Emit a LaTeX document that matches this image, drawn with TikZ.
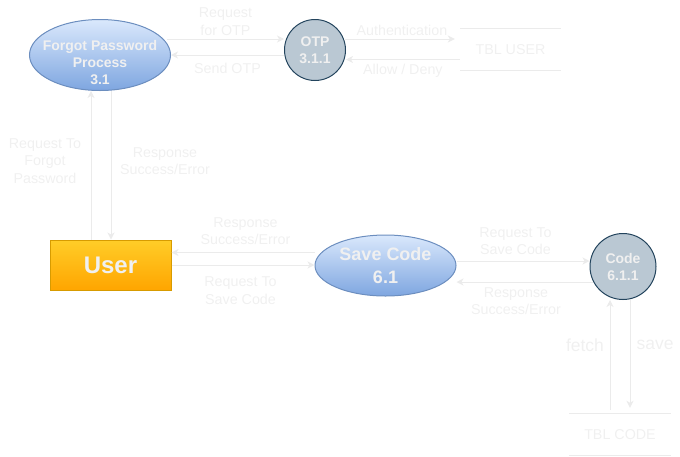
\documentclass[tikz,border=0pt]{standalone}
\usepackage{fontspec}
\setmainfont{Liberation Sans}
\usepackage{xcolor}
\usetikzlibrary{arrows.meta,positioning,calc,shapes.geometric}
\definecolor{faint}{HTML}{F0F0F0}
\definecolor{wire}{HTML}{EBEBEB}
\definecolor{proctop}{HTML}{DAE8FC}
\definecolor{procbot}{HTML}{7EA6E0}
\definecolor{procline}{HTML}{6C8EBF}
\definecolor{storefill}{HTML}{BAC8D3}
\definecolor{storeline}{HTML}{23445D}
\definecolor{enttop}{HTML}{FFCD28}
\definecolor{entbot}{HTML}{FFA500}
\definecolor{entline}{HTML}{D79B00}

\begin{document}
\begin{tikzpicture}[
    x=1pt, y=-1pt,
    txt/.style={text=faint, align=center, inner sep=0pt, font=\fontsize{14.3}{17.5}\selectfont},
    bold/.style={text=faint, align=center, inner sep=0pt, font=\fontsize{14}{17}\selectfont\bfseries},
    proc/.style={ellipse, draw=procline, line width=1pt, top color=proctop, bottom color=procbot, inner sep=0pt, minimum width=141pt},
    store/.style={circle, draw=storeline, line width=1pt, fill=storefill, inner sep=0pt, bold},
    ent/.style={rectangle, draw=entline, line width=1pt, top color=enttop, bottom color=entbot, minimum width=121pt, minimum height=50pt, bold, font=\fontsize{24}{28}\selectfont\bfseries},
    tbl/.style={txt, minimum width=101pt, minimum height=41pt},
    line/.style={draw=wire, line width=1pt},
    arrow/.style={line, -{Stealth[length=7pt,width=7pt,inset=2pt]}},
]
\useasboundingbox (0,0) rectangle (680,456);

\node[proc, minimum height=71pt, label={[bold, yshift=-8pt]center:Forgot Password\\Process\\3.1}] (fp) at (100,55) {};
\node[store, minimum size=61pt] (otp) at (315,50) {OTP\\3.1.1};
\node[tbl] (tbluser) at (510.5,49.5) {TBL USER};
\node[ent] (user) at (110.5,265) {User};
\node[proc, minimum height=61pt, bold, font=\fontsize{18}{23}\selectfont\bfseries] (save) at (385.5,265.5) {Save Code\\6.1};
\node[store, minimum size=66pt] (code) at (623,266.5) {Code\\6.1.1};
\node[tbl] (tblcode) at (620,434.5) {TBL CODE};

\draw[line] (tbluser.north west) -- (tbluser.north east);
\draw[line] (tbluser.south west) -- (tbluser.south east);
\draw[line] (tblcode.north west) -- (tblcode.north east);
\draw[line] (tblcode.south west) -- (tblcode.south east);

\draw[arrow] ([xshift=-4pt,yshift=16pt]fp.east) -- ([yshift=16pt]fp.east -| otp.west)
    node[txt, midway, above=3pt] (reqotp) {Request\\for OTP};
\draw[arrow] (otp.west |- fp.east) -- (fp.east)
    node[txt, midway, below=8pt] (sendotp) {Send OTP};
\draw[arrow, shorten >=5pt] ([xshift=-2pt,yshift=11pt]otp.east) -- ([yshift=11pt]otp.east -| tbluser.west)
    node[txt, midway, above=3pt] (auth) {Authentication};
\draw[arrow] ([yshift=-10pt]tbluser.west) -- ([yshift=-10pt]tbluser.west -| otp.east)
    node[txt, midway, below=4pt] (allow) {Allow / Deny};

\draw[arrow] ([xshift=-19.5pt]user.north) -- ([xshift=-19.5pt]user.north |- fp.south);
\draw[arrow] ([xshift=11pt]fp.south) -- ([xshift=11pt]fp.south |- user.north);
\node[txt] (reqfp) at (45,161) {Request To\\Forgot\\Password};
\node[txt] (respfp) at (165,161) {Response\\Success/Error};

\draw[arrow] ([yshift=13pt]save.west) -- ([yshift=13pt]save.west -| user.east);
\draw[arrow] (user.east) -- (user.east -| save.west);
\node[txt] (respuser) at (245.5,231) {Response\\Success/Error};
\node[txt] (requser) at (240.5,290.5) {Request To\\Save Code};

\draw[arrow] ([yshift=4.5pt]save.east) -- ([yshift=4.5pt]save.east -| code.west);
\draw[arrow] ([xshift=3pt,yshift=-15.5pt]code.west) -- ([yshift=-15.5pt]code.west -| save.east);
\node[txt] (reqcode) at (515.5,241) {Request To\\Save Code};
\node[txt] (respcode) at (516,301) {Response\\Success/Error};

\draw[arrow, shorten <=4pt] ([xshift=-10pt]tblcode.north) -- ([xshift=-10pt]tblcode.north |- code.south);
\draw[arrow, shorten >=6pt] ([xshift=7pt]code.south) -- ([xshift=7pt]code.south |- tblcode.north);
\node[txt, font=\fontsize{17.5}{21}\selectfont] (fetch) at (585,345) {fetch};
\node[txt, font=\fontsize{17.5}{21}\selectfont] (savelbl) at (655,345) {save};
\end{tikzpicture}
\end{document}
